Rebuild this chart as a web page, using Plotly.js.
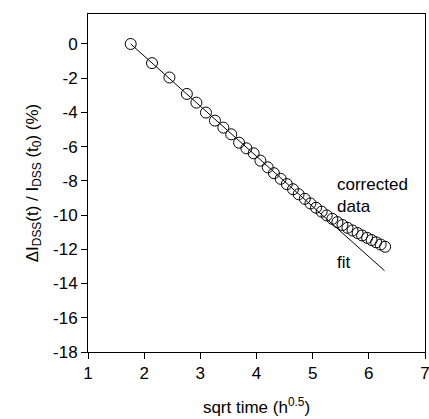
<!DOCTYPE html>
<html>
<head>
<meta charset="utf-8">
<script src="https://cdn.plot.ly/plotly-3.0.1.min.js"></script>
<style>html,body{margin:0;padding:0;background:#fff;}#chart{width:429px;height:419px;}</style>
</head>
<body>
<div id="chart"></div>
<script>
// sqrt time (h^0.5) of each measurement
const sqrtTime = [1.76, 2.14, 2.45, 2.76, 2.93, 3.10, 3.26, 3.41, 3.55, 3.69, 3.82, 3.95, 4.07, 4.20,
  4.31, 4.43, 4.54, 4.65, 4.75, 4.86, 4.96, 5.06, 5.16, 5.25, 5.35, 5.44, 5.53, 5.62, 5.71, 5.80,
  5.88, 5.97, 6.05, 6.13, 6.21, 6.29];
// corrected data, delta IDSS / IDSS(t0) in %
const correctedData = [0, -1.12, -1.96, -2.92, -3.43, -4.01, -4.48, -4.89, -5.28, -5.77, -6.10, -6.39, -6.82, -7.21,
  -7.55, -7.88, -8.19, -8.49, -8.78, -9.05, -9.32, -9.57, -9.80, -10.02, -10.22, -10.41, -10.58, -10.74, -10.90, -11.05,
  -11.19, -11.33, -11.46, -11.59, -11.72, -11.85];
// linear fit end points
const fitX = [1.76, 6.28];
const fitY = [0, -13.25];
const xTicks = [1, 2, 3, 4, 5, 6, 7];
const yTicks = [0, -2, -4, -6, -8, -10, -12, -14, -16, -18];

const font = {family: 'Liberation Sans, Arial, sans-serif', size: 17, color: '#000'};

const traces = [
  {x: fitX, y: fitY, mode: 'lines', line: {color: '#000', width: 1}, hoverinfo: 'skip', showlegend: false},
  {x: sqrtTime, y: correctedData, mode: 'markers', showlegend: false,
   marker: {symbol: 'circle-open', size: 11, color: '#000', line: {color: '#000', width: 1}}}
];

const layout = {
  width: 429, height: 419,
  margin: {l: 88, r: 4, t: 14, b: 67},
  paper_bgcolor: '#fff', plot_bgcolor: '#fff',
  font: font,
  showlegend: false,
  xaxis: {
    range: [1, 7], tickvals: xTicks, ticktext: xTicks.map(String),
    ticks: 'outside', ticklen: 6, tickcolor: '#000', tickwidth: 1,
    showline: true, linecolor: '#000', linewidth: 1, mirror: true,
    showgrid: false, zeroline: false,
    tickfont: font, ticklabeloverflow: 'allow',
    title: {text: 'sqrt time (h<sup>0.5</sup>)', font: font, standoff: 18},
    automargin: false
  },
  yaxis: {
    range: [-18, 1.75], tickvals: yTicks, ticktext: yTicks.map(String),
    ticks: 'outside', ticklen: 6, tickcolor: '#000', tickwidth: 1,
    showline: true, linecolor: '#000', linewidth: 1, mirror: true,
    showgrid: false, zeroline: false,
    tickfont: font,
    title: {text: 'ΔI<sub>DSS</sub>(t) / I<sub>DSS</sub> (t<sub>0</sub>) (%)', font: font, standoff: 10},
    automargin: false
  },
  annotations: [
    {x: 5.39, y: -8.84, xref: 'x', yref: 'y', text: 'corrected<br>data', showarrow: false,
     xanchor: 'left', yanchor: 'middle', align: 'left', font: font},
    {x: 5.4, y: -12.75, xref: 'x', yref: 'y', text: 'fit', showarrow: false,
     xanchor: 'left', yanchor: 'middle', align: 'left', font: font}
  ]
};

Plotly.newPlot('chart', traces, layout, {displayModeBar: false, staticPlot: true});
</script>
</body>
</html>
